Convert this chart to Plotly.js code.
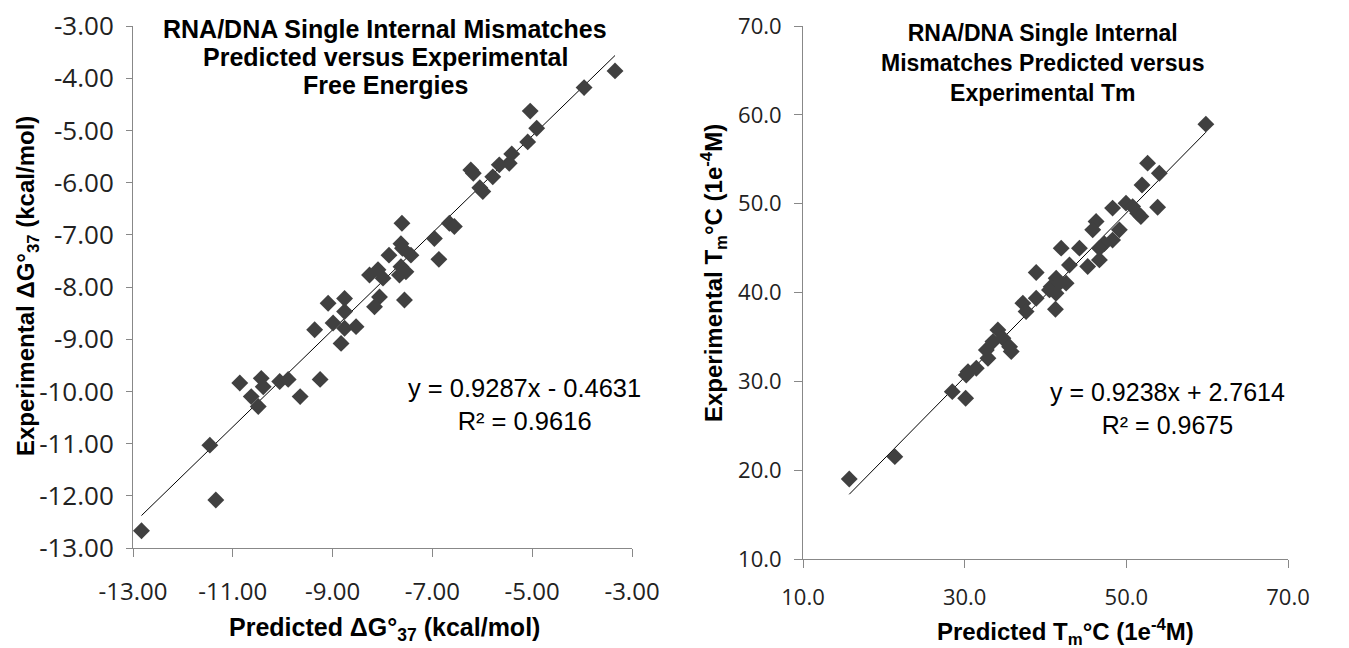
<!DOCTYPE html>
<html>
<head>
<meta charset="utf-8">
<script src="https://cdn.plot.ly/plotly-3.0.1.min.js"></script>
<style>html,body{margin:0;padding:0;background:#fff;}#chart{width:1349px;height:648px;}</style>
</head>
<body>
<div id="chart"></div>
<script>
// Left chart: free energies (kcal/mol)
var dgPredicted = [-3.34,-3.96,-5.04,-4.91,-5.09,-5.41,-5.46,-5.66,-6.23,-6.18,-5.79,-5.99,-6.05,-7.61,-6.66,-6.56,-6.96,-6.87,-7.63,-7.60,-7.43,-7.87,-8.26,-8.09,-7.99,-7.63,-7.53,-7.66,-8.06,-8.16,-7.56,-9.09,-8.76,-8.76,-9.36,-8.99,-8.76,-8.53,-8.83,-10.86,-10.43,-10.39,-10.06,-9.89,-10.63,-10.49,-9.65,-9.25,-11.46,-11.34,-12.83];
var dgExperimental = [-3.86,-4.18,-4.63,-4.96,-5.22,-5.45,-5.63,-5.66,-5.76,-5.82,-5.89,-6.17,-6.10,-6.78,-6.78,-6.84,-7.07,-7.47,-7.17,-7.26,-7.39,-7.39,-7.77,-7.67,-7.83,-7.61,-7.71,-7.77,-8.19,-8.38,-8.25,-8.31,-8.22,-8.47,-8.82,-8.69,-8.79,-8.76,-9.08,-9.84,-9.75,-9.91,-9.81,-9.77,-10.10,-10.29,-10.10,-9.77,-11.03,-12.08,-12.67];
var dgFit = {slope: 0.9287, intercept: -0.4631, r2: 0.9616};
var dgXTickVals = [-13,-11,-9,-7,-5,-3];
var dgXTickText = ['-13.00','-11.00','-9.00','-7.00','-5.00','-3.00'];
var dgYTickVals = [-13,-12,-11,-10,-9,-8,-7,-6,-5,-4,-3];
var dgYTickText = ['-13.00','-12.00','-11.00','-10.00','-9.00','-8.00','-7.00','-6.00','-5.00','-4.00','-3.00'];
var dgTitleLines = ['RNA/DNA Single Internal Mismatches','Predicted versus Experimental','Free Energies'];

// Right chart: melting temperatures (°C)
var tmPredicted = [59.84,52.63,54.08,53.87,51.94,48.30,49.96,50.78,51.40,51.80,46.26,45.84,49.14,48.30,47.28,46.67,44.20,41.94,45.22,46.67,38.85,42.96,41.32,40.70,42.55,41.73,40.49,41.30,41.23,37.20,37.60,38.85,34.11,33.50,34.73,35.56,35.76,32.88,32.68,31.44,30.41,30.20,28.47,30.12,21.36,15.72];
var tmExperimental = [58.95,54.56,53.43,49.60,52.10,49.50,50.06,49.67,48.93,48.55,47.99,47.05,47.05,45.90,45.50,44.99,44.99,44.99,42.92,43.67,42.25,43.10,41.60,40.66,41.05,41.05,40.29,39.92,38.12,38.80,37.85,39.36,35.79,34.47,34.85,33.90,33.35,32.60,33.53,31.48,31.09,30.72,28.84,28.10,21.52,19.00];
var tmFit = {slope: 0.9238, intercept: 2.7614, r2: 0.9675};
var tmTitle = 'RNA/DNA Single Internal<br>Mismatches Predicted versus<br>Experimental Tm';

function fitLine(xs, fit) {
  var lo = Math.min.apply(null, xs), hi = Math.max.apply(null, xs);
  return {x: [lo, hi], y: [fit.slope * lo + fit.intercept, fit.slope * hi + fit.intercept]};
}
var dgLine = fitLine(dgPredicted, dgFit);
var tmLine = fitLine(tmPredicted, tmFit);

var markerStyle = {symbol: 'diamond', size: 13, color: '#404040', line: {width: 0}};
var traces = [
  {x: dgLine.x, y: dgLine.y, mode: 'lines', line: {color: '#000', width: 1}, xaxis: 'x', yaxis: 'y', hoverinfo: 'skip'},
  {x: dgPredicted, y: dgExperimental, mode: 'markers', marker: markerStyle, xaxis: 'x', yaxis: 'y', name: 'ΔG°37'},
  {x: tmLine.x, y: tmLine.y, mode: 'lines', line: {color: '#000', width: 1}, xaxis: 'x2', yaxis: 'y2', hoverinfo: 'skip'},
  {x: tmPredicted, y: tmExperimental, mode: 'markers', marker: markerStyle, xaxis: 'x2', yaxis: 'y2', name: 'Tm'}
];

var W = 1349, H = 648;
var axColor = '#888888';
var ff = 'Liberation Sans, Arial, sans-serif';
var tickFontL = {family: 'Open Sans, sans-serif', size: 24, color: '#222'};
var tickFontLy = {family: 'Open Sans, sans-serif', size: 26, color: '#222'};
var tickFontR = {family: 'Open Sans, sans-serif', size: 22, color: '#222'};

function fmtEq(fit) {
  var s = fit.intercept < 0 ? ' - ' : ' + ';
  return 'y = ' + fit.slope.toFixed(4) + 'x' + s + Math.abs(fit.intercept).toFixed(4) + '<br>R² = ' + fit.r2.toFixed(4);
}

function ann(x, y, text, size, extra) {
  var a = {xref: 'paper', yref: 'paper', x: x / W, y: 1 - y / H, xanchor: 'center', yanchor: 'middle',
           showarrow: false, text: text, font: {family: ff, size: size, color: '#000'}};
  for (var k in (extra || {})) a[k] = extra[k];
  return a;
}

var annotations = [];
var dgTitleY = [29, 57, 85];
dgTitleLines.forEach(function (t, i) { annotations.push(ann(385, dgTitleY[i], '<b>' + t + '</b>', 25)); });
annotations.push(ann(1042, 63, '<b>' + tmTitle + '</b>', 23));
annotations.push(ann(384, 629, '<b>Predicted ΔG°<sub>37</sub> (kcal/mol)</b>', 25));
annotations.push(ann(27, 286, '<b>Experimental ΔG°<sub>37</sub> (kcal/mol)</b>', 24, {textangle: -90}));
annotations.push(ann(1065, 632, '<b>Predicted T<sub>m</sub>°C (1e<sup>-4</sup>M)</b>', 24));
annotations.push(ann(714, 273, '<b>Experimental T<sub>m</sub>°C (1e<sup>-4</sup>M)</b>', 24, {textangle: -90}));
annotations.push(ann(524, 404, fmtEq(dgFit), 25.5));
annotations.push(ann(1167, 408, fmtEq(tmFit), 25));

var layout = {
  width: W, height: H,
  margin: {l: 0, r: 0, t: 0, b: 0},
  paper_bgcolor: '#fff', plot_bgcolor: '#fff',
  showlegend: false,
  xaxis: {domain: [133/W, 632/W], range: [-13, -3], tickmode: 'array', tickvals: dgXTickVals, ticktext: dgXTickText,
    showgrid: false, zeroline: false, showline: true, linecolor: axColor, linewidth: 1,
    ticks: 'outside', ticklen: 8, tickcolor: axColor, tickfont: tickFontL, ticklabelstandoff: 14, anchor: 'y'},
  yaxis: {domain: [1-548/H, 1-26/H], range: [-13, -3], tickmode: 'array', tickvals: dgYTickVals, ticktext: dgYTickText,
    showgrid: false, zeroline: false, showline: true, linecolor: axColor, linewidth: 1,
    ticks: 'outside', ticklen: 6, tickcolor: axColor, tickfont: tickFontLy, ticklabelstandoff: 7, anchor: 'x'},
  xaxis2: {domain: [803/W, 1288/W], range: [10, 70], dtick: 20, tick0: 10, tickformat: '.1f',
    showgrid: false, zeroline: false, showline: true, linecolor: axColor, linewidth: 1,
    ticks: 'outside', ticklen: 8, tickcolor: axColor, tickfont: tickFontR, ticklabelstandoff: 11, anchor: 'y2'},
  yaxis2: {domain: [1-559/H, 1-26/H], range: [10, 70], dtick: 10, tick0: 10, tickformat: '.1f',
    showgrid: false, zeroline: false, showline: true, linecolor: axColor, linewidth: 1,
    ticks: 'outside', ticklen: 8, tickcolor: axColor, tickfont: tickFontR, ticklabelstandoff: 8, anchor: 'x2'},
  annotations: annotations
};

Plotly.newPlot('chart', traces, layout, {displayModeBar: false, staticPlot: true});
</script>
</body>
</html>
